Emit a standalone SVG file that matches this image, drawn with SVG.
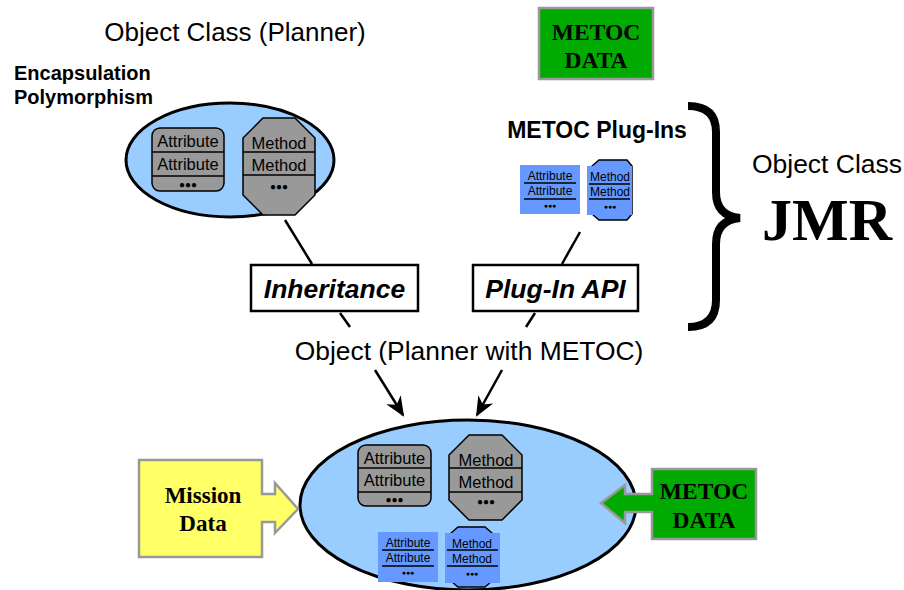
<svg xmlns="http://www.w3.org/2000/svg" width="904" height="590" viewBox="0 0 904 590">
<style>
.sans{font-family:"Liberation Sans",Arial,sans-serif}
.serif{font-family:"Liberation Serif","Times New Roman",serif}
.ell{fill:#99CCFF;stroke:#000;stroke-width:3}
.gray{fill:#999999;stroke:#000;stroke-width:1.5}
.blue{fill:#6699FF;stroke:none}
.sep{stroke:#000;stroke-width:1.5}
.line{stroke:#000;stroke-width:2.5;fill:none}
.box{fill:#fff;stroke:#000;stroke-width:2.5}
</style>
<defs>
<marker id="arr" viewBox="0 0 20 20" refX="18" refY="10" markerWidth="20" markerHeight="20" markerUnits="userSpaceOnUse" orient="auto" overflow="visible">
<path d="M0,1.5 L20,10 L0,18.5 L6,10 Z" fill="#000"/>
</marker>
</defs>

<text class="sans" x="235" y="41" font-size="26" text-anchor="middle">Object Class (Planner)</text>
<text class="sans" x="14" y="80" font-size="20" font-weight="bold">Encapsulation</text>
<text class="sans" x="14" y="104" font-size="20" font-weight="bold">Polymorphism</text>

<g id="planner-class">
<ellipse class="ell" cx="230" cy="160" rx="104" ry="57"/>
<rect class="gray" x="152" y="128" width="72" height="63" rx="8"/>
<line class="sep" x1="152" y1="152" x2="224" y2="152"/>
<line class="sep" x1="152" y1="176" x2="224" y2="176"/>
<text class="sans" x="188" y="147" font-size="16.5" text-anchor="middle">Attribute</text>
<text class="sans" x="188" y="170" font-size="16.5" text-anchor="middle">Attribute</text>
<text class="sans" x="188" y="188" font-size="10" font-weight="bold" text-anchor="middle">●●●</text>
<polygon class="gray" points="263,118 295,118 315,138 315,195 295,215 263,215 243,195 243,138"/>
<line class="sep" x1="243" y1="152" x2="315" y2="152"/>
<line class="sep" x1="243" y1="175" x2="315" y2="175"/>
<text class="sans" x="279" y="149" font-size="16.5" text-anchor="middle">Method</text>
<text class="sans" x="279" y="171" font-size="16.5" text-anchor="middle">Method</text>
<text class="sans" x="279" y="190" font-size="10" font-weight="bold" text-anchor="middle">●●●</text>
</g>

<g id="metoc-top">
<rect x="539" y="8" width="114" height="71" fill="#00AA00" stroke="#999" stroke-width="2.5"/>
<text class="serif" x="596" y="40" font-size="23.5" font-weight="bold" text-anchor="middle">METOC</text>
<text class="serif" x="596" y="68" font-size="23.5" font-weight="bold" text-anchor="middle">DATA</text>
</g>

<g id="metoc-plugins">
<text class="sans" x="597" y="138" font-size="23" font-weight="bold" text-anchor="middle">METOC Plug-Ins</text>
<rect class="blue" x="520" y="165" width="60" height="49"/>
<line class="sep" x1="524" y1="183" x2="576" y2="183"/>
<line class="sep" x1="524" y1="199" x2="576" y2="199"/>
<text class="sans" x="550" y="180" font-size="12" text-anchor="middle">Attribute</text>
<text class="sans" x="550" y="195" font-size="12" text-anchor="middle">Attribute</text>
<text class="sans" x="550" y="208" font-size="7" font-weight="bold" text-anchor="middle">●●●</text>
<polygon points="599,160 627,160 632,166 632,214 627,220 599,220 592,214 592,166" fill="#6699FF" stroke="#000" stroke-width="1.5"/>
<rect class="blue" x="587" y="166" width="45" height="49"/>
<line class="sep" x1="589" y1="184" x2="630" y2="184"/>
<line class="sep" x1="589" y1="199" x2="630" y2="199"/>
<text class="sans" x="610" y="181" font-size="12" text-anchor="middle">Method</text>
<text class="sans" x="610" y="196" font-size="12" text-anchor="middle">Method</text>
<text class="sans" x="610" y="209" font-size="7" font-weight="bold" text-anchor="middle">●●●</text>
</g>

<g id="jmr">
<path d="M688,106 Q716,106 716,132 L716,192 Q716,216 740,218 Q716,220 716,244 L716,300 Q716,327 688,327" fill="none" stroke="#000" stroke-width="8"/>
<text class="sans" x="827" y="173" font-size="26.5" text-anchor="middle">Object Class</text>
<text class="serif" x="827" y="240" font-size="60" font-weight="bold" text-anchor="middle">JMR</text>
</g>

<g id="inheritance">
<rect class="box" x="251" y="265" width="167" height="46"/>
<text class="sans" x="334.5" y="298" font-size="26.5" font-weight="bold" font-style="italic" text-anchor="middle">Inheritance</text>
</g>

<g id="plugin-api">
<rect class="box" x="473" y="265" width="165" height="46"/>
<text class="sans" x="555.5" y="298" font-size="26.5" font-weight="bold" font-style="italic" text-anchor="middle">Plug-In API</text>
</g>

<text class="sans" x="469" y="360" font-size="26.4" text-anchor="middle">Object (Planner with METOC)</text>

<g id="connectors">
<line class="line" x1="285" y1="220" x2="312" y2="264"/>
<line class="line" x1="340" y1="313" x2="350" y2="327"/>
<line class="line" x1="580" y1="232" x2="562" y2="264"/>
<line class="line" x1="535" y1="313" x2="526" y2="327"/>
<line class="line" x1="375" y1="370" x2="403" y2="415" marker-end="url(#arr)"/>
<line class="line" x1="502" y1="370" x2="477" y2="415" marker-end="url(#arr)"/>
</g>

<g id="planner-object">
<ellipse class="ell" cx="468" cy="505" rx="168" ry="85"/>
<rect class="gray" x="358" y="445" width="73" height="61" rx="8"/>
<line class="sep" x1="358" y1="468" x2="431" y2="468"/>
<line class="sep" x1="358" y1="492" x2="431" y2="492"/>
<text class="sans" x="394.5" y="464" font-size="16.5" text-anchor="middle">Attribute</text>
<text class="sans" x="394.5" y="486" font-size="16.5" text-anchor="middle">Attribute</text>
<text class="sans" x="394.5" y="503" font-size="10" font-weight="bold" text-anchor="middle">●●●</text>
<polygon class="gray" points="469,435 502,435 522,455 522,500 502,520 469,520 449,500 449,455"/>
<line class="sep" x1="449" y1="468" x2="522" y2="468"/>
<line class="sep" x1="449" y1="492" x2="522" y2="492"/>
<text class="sans" x="486" y="466" font-size="16.5" text-anchor="middle">Method</text>
<text class="sans" x="486" y="488" font-size="16.5" text-anchor="middle">Method</text>
<text class="sans" x="486" y="505" font-size="10" font-weight="bold" text-anchor="middle">●●●</text>
<rect class="blue" x="378" y="532" width="60" height="50"/>
<line class="sep" x1="382" y1="550" x2="434" y2="550"/>
<line class="sep" x1="382" y1="566" x2="434" y2="566"/>
<text class="sans" x="408" y="547" font-size="12" text-anchor="middle">Attribute</text>
<text class="sans" x="408" y="562" font-size="12" text-anchor="middle">Attribute</text>
<text class="sans" x="408" y="575" font-size="7" font-weight="bold" text-anchor="middle">●●●</text>
<polygon points="458,527 485,527 492,533 492,581 485,587 458,587 451,581 451,533" fill="#6699FF" stroke="#000" stroke-width="1.5"/>
<rect class="blue" x="445" y="533" width="55" height="50"/>
<line class="sep" x1="447" y1="550" x2="498" y2="550"/>
<line class="sep" x1="447" y1="566" x2="498" y2="566"/>
<text class="sans" x="472" y="548" font-size="12" text-anchor="middle">Method</text>
<text class="sans" x="472" y="563" font-size="12" text-anchor="middle">Method</text>
<text class="sans" x="472" y="576" font-size="7" font-weight="bold" text-anchor="middle">●●●</text>
</g>

<g id="mission-data">
<path d="M139,460 L262,460 L262,494 L275,494 L275,483 L298,509 L275,533 L275,522 L262,522 L262,557 L139,557 Z" fill="#FFFF66" stroke="#999" stroke-width="2.5"/>
<text class="serif" x="203" y="503" font-size="23" font-weight="bold" text-anchor="middle">Mission</text>
<text class="serif" x="203" y="531" font-size="23" font-weight="bold" text-anchor="middle">Data</text>
</g>

<g id="metoc-bottom">
<path d="M756,469 L652,469 L652,494 L625,494 L625,485 L601,503 L625,523 L625,512 L652,512 L652,539 L756,539 Z" fill="#00AA00" stroke="#999" stroke-width="2.5"/>
<text class="serif" x="704" y="499" font-size="23.5" font-weight="bold" text-anchor="middle">METOC</text>
<text class="serif" x="704" y="528" font-size="23.5" font-weight="bold" text-anchor="middle">DATA</text>
</g>
</svg>
